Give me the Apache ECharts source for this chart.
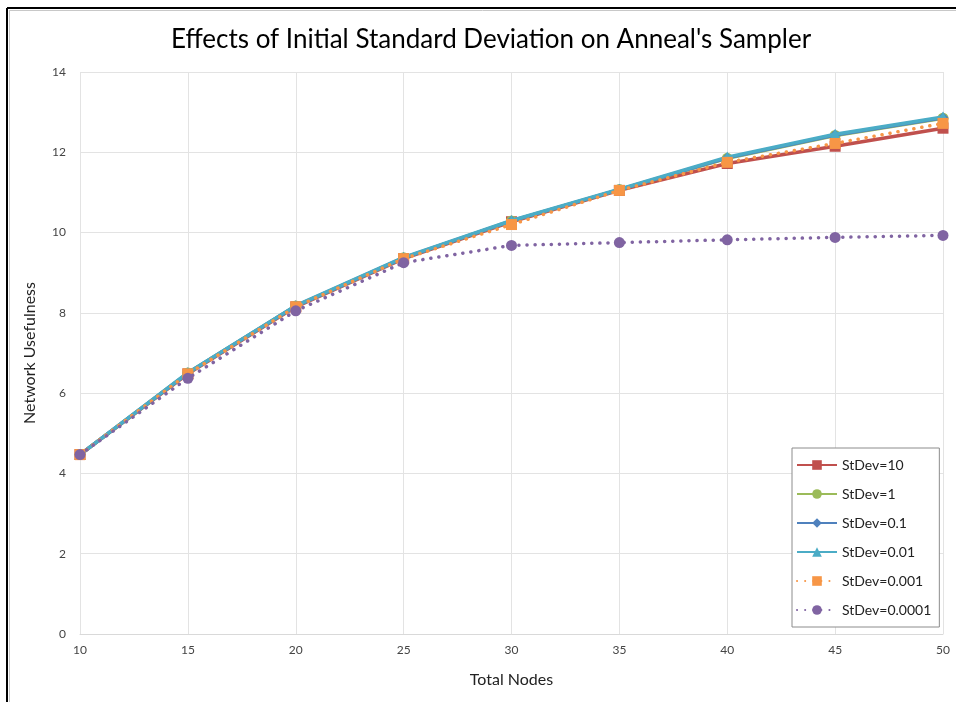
<!DOCTYPE html>
<html>
<head>
<meta charset="utf-8">
<script src="https://cdn.jsdelivr.net/npm/echarts@6/dist/echarts.min.js"></script>
<style>
  html, body { margin: 0; padding: 0; background: #fff; }
  #chart { width: 956px; height: 702px; }
</style>
</head>
<body>
<div id="chart"></div>
<script>
// values
const totalNodes = [10, 15, 20, 25, 30, 35, 40, 45, 50];
const seriesNames = ['StDev=10', 'StDev=1', 'StDev=0.1', 'StDev=0.01', 'StDev=0.001', 'StDev=0.0001'];
const sd10 = [4.47, 6.48, 8.15, 9.35, 10.27, 11.05, 11.72, 12.15, 12.6];
const sd1 = [4.47, 6.5, 8.17, 9.37, 10.29, 11.07, 11.85, 12.42, 12.85];
const sd01 = [4.47, 6.5, 8.17, 9.37, 10.29, 11.07, 11.86, 12.43, 12.86];
const sd001 = [4.47, 6.51, 8.18, 9.38, 10.3, 11.08, 11.88, 12.45, 12.88];
const sd0001 = [4.47, 6.48, 8.15, 9.35, 10.2, 11.05, 11.75, 12.22, 12.72];
const sd00001 = [4.47, 6.37, 8.05, 9.25, 9.68, 9.75, 9.82, 9.88, 9.93];

const allValues = [sd10, sd1, sd01, sd001, sd0001, sd00001];
const colors = ['#C0504D', '#9BBB59', '#4F81BD', '#4BACC6', '#F79646', '#8064A2'];
const symbols = ['rect', 'circle', 'diamond', 'triangle', 'rect', 'circle'];
const dashed = [false, false, false, false, true, true];

function pairs(vals) {
  return totalNodes.map((x, i) => [x, vals[i]]);
}

let chart = echarts.init(document.getElementById('chart'));
let series = seriesNames.map((name, i) => ({
  name: name,
  type: 'line',
  data: pairs(allValues[i]),
  symbol: symbols[i],
  symbolSize: 11,
  color: colors[i],
  lineStyle: {
    width: 3.5,
    type: dashed[i] ? [0.1, 8] : 'solid',
    cap: dashed[i] ? 'round' : 'butt',
    color: colors[i]
  },
  itemStyle: { color: colors[i] },
  z: 2 + i
}));

let options = {
  animation: false,
  textStyle: { fontFamily: 'Lato' },
  title: {
    text: "Effects of Initial Standard Deviation on Anneal's Sampler",
    left: 486,
    textAlign: 'center',
    top: 22,
    textStyle: { fontSize: 26, fontWeight: 'normal', color: '#000', fontFamily: 'Lato' }
  },
  grid: { left: 80, right: 13, top: 72, bottom: 68 },
  xAxis: {
    type: 'value',
    min: 10, max: 50, interval: 5,
    name: 'Total Nodes',
    nameLocation: 'middle',
    nameGap: 38,
    nameTextStyle: { fontSize: 16, color: '#222' },
    axisLine: { lineStyle: { color: '#D9D9D9' } },
    axisTick: { show: false },
    axisLabel: { fontSize: 12, color: '#444', margin: 10 },
    splitLine: { show: true, lineStyle: { color: '#E3E3E3' } }
  },
  yAxis: {
    type: 'value',
    min: 0, max: 14, interval: 2,
    name: 'Network Usefulness',
    nameLocation: 'middle',
    nameGap: 42,
    nameTextStyle: { fontSize: 16, color: '#222' },
    axisLine: { show: false },
    axisTick: { show: false },
    axisLabel: { fontSize: 12, color: '#444', margin: 14 },
    splitLine: { lineStyle: { color: '#E3E3E3' } }
  },
  legend: {
    orient: 'vertical',
    left: 792,
    top: 448,
    itemWidth: 40,
    itemHeight: 12,
    itemGap: 15,
    padding: [10, 8, 10, 4],
    backgroundColor: '#fff',
    borderColor: '#8C8C8C',
    borderWidth: 1,
    textStyle: { fontSize: 14, color: '#222' },
    data: seriesNames
  },
  graphic: [
    { type: 'line', shape: { x1: 7, y1: 8, x2: 956, y2: 8 }, style: { stroke: '#000', lineWidth: 2 } },
    { type: 'line', shape: { x1: 7, y1: 8, x2: 7, y2: 702 }, style: { stroke: '#000', lineWidth: 2 } },
    { type: 'line', shape: { x1: 9, y1: 10.5, x2: 956, y2: 10.5 }, style: { stroke: '#C8C8C8', lineWidth: 1 } },
    { type: 'line', shape: { x1: 9.5, y1: 10, x2: 9.5, y2: 702 }, style: { stroke: '#C8C8C8', lineWidth: 1 } }
  ],
  series: series
};
chart.setOption(options);
</script>
</body>
</html>
